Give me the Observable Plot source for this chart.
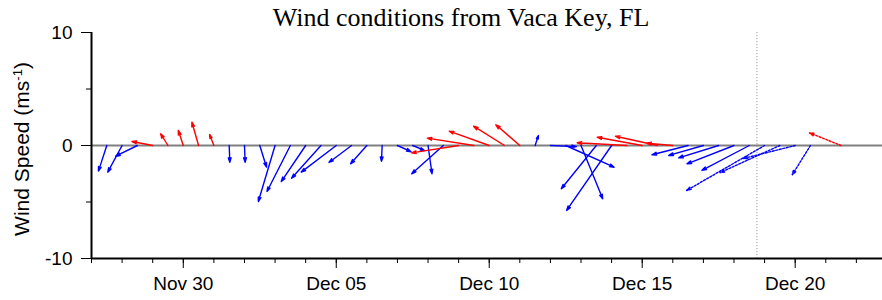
<!DOCTYPE html>
<html><head><meta charset="utf-8">
<script src="https://cdn.jsdelivr.net/npm/d3@7"></script>
<script src="https://cdn.jsdelivr.net/npm/@observablehq/plot@0.6"></script>
<style>
body{margin:0;background:#fff;}
#wrap{position:relative;width:882px;height:300px;}
#title{position:absolute;left:0;top:4px;width:922px;text-align:center;font-family:"Liberation Serif","Times New Roman",serif;font-size:26px;line-height:28px;color:#000;}
</style></head><body>
<div id="wrap"><div id="title">Wind conditions from Vaca Key, FL</div></div>
<script>
// observation / forecast times (UTC), 12-hourly
const times = [
"2023-11-27T12:00Z","2023-11-28T00:00Z","2023-11-28T12:00Z","2023-11-29T00:00Z","2023-11-29T12:00Z",
"2023-11-30T00:00Z","2023-11-30T12:00Z","2023-12-01T00:00Z","2023-12-01T12:00Z","2023-12-02T00:00Z",
"2023-12-02T12:00Z","2023-12-03T00:00Z","2023-12-03T12:00Z","2023-12-04T00:00Z","2023-12-04T12:00Z",
"2023-12-05T00:00Z","2023-12-05T12:00Z","2023-12-06T00:00Z","2023-12-06T12:00Z","2023-12-07T00:00Z",
"2023-12-07T12:00Z","2023-12-08T00:00Z","2023-12-08T12:00Z","2023-12-09T00:00Z","2023-12-09T12:00Z",
"2023-12-10T00:00Z","2023-12-10T12:00Z","2023-12-11T00:00Z","2023-12-11T12:00Z","2023-12-12T00:00Z",
"2023-12-12T12:00Z","2023-12-13T00:00Z","2023-12-13T12:00Z","2023-12-14T00:00Z","2023-12-14T12:00Z",
"2023-12-15T00:00Z","2023-12-15T12:00Z","2023-12-16T00:00Z","2023-12-16T12:00Z","2023-12-17T00:00Z",
"2023-12-17T12:00Z","2023-12-18T00:00Z","2023-12-18T12:00Z","2023-12-19T00:00Z","2023-12-19T12:00Z",
"2023-12-20T00:00Z","2023-12-20T12:00Z","2023-12-21T12:00Z"];
// east-west wind component (m/s)
const uWind = [
-0.74,-1.27,-1.92,-1.83,-0.65,-0.44,-0.59,-0.38,0.06,0.06,
0.60,-1.48,-2.07,-2.16,-2.60,-3.10,-2.00,-1.44,-0.06,1.20,
1.03,0.35,-2.80,-4.16,-4.13,-3.54,-2.74,-2.12,0.29,2.30,
4.28,1.92,-3.10,-3.98,-4.40,-3.98,-3.72,-2.30,-3.19,-3.06,
-3.54,-4.16,-4.19,-6.90,-5.30,-4.60,-1.62,-2.80];
// north-south wind component (m/s)
const vWind = [
-2.27,-2.36,-0.95,0.35,1.04,1.33,2.06,0.97,-1.48,-1.48,
-1.92,-4.96,-4.07,-3.19,-2.90,-2.36,-1.50,-1.62,-1.40,-0.55,
-0.44,-2.50,-2.50,-0.65,0.65,1.27,1.71,1.83,0.88,-0.10,
-1.92,-4.72,-3.83,-5.75,0.24,0.73,0.82,0.20,-0.82,-0.88,
-1.09,-1.62,-2.20,-3.98,-2.40,-1.15,-2.60,1.12];
// vector class
const group = [
"b","b","b","a","a","a","a","a","b","b",
"b","b","b","b","b","b","b","b","b","b",
"b","b","b","a","a","a","a","a","b","b",
"b","b","b","b","a","a","a","a","b","b",
"b","b","b","b","b","b","b","a"];
// observed vs forecast
const kind = [
"obs","obs","obs","obs","obs","obs","obs","obs","obs","obs",
"obs","obs","obs","obs","obs","obs","obs","obs","obs","obs",
"obs","obs","obs","obs","obs","obs","obs","obs","obs","obs",
"obs","obs","obs","obs","obs","obs","obs","obs","obs","obs",
"obs","obs","obs","fc","fc","fc","fc","fc"];
const nowTime = "2023-12-18T18:00Z";
const xTickDates = ["2023-11-30","2023-12-05","2023-12-10","2023-12-15","2023-12-20"];
const yTicks = [-10, 0, 10];
const yMinorTicks = [-5, 5];

const W = 882, H = 300, mL = 91, mR = 0, mT = 32, mB = 42;
const xStart = new Date("2023-11-27T00:00Z"), xEnd = new Date("2023-12-22T20:30Z");
const yDomain = [-10, 10];
const pxPerUnit = (H - mT - mB) / (yDomain[1] - yDomain[0]);
const msPerPx = (xEnd - xStart) / (W - mL - mR);

const data = times.map((t, i) => {
  const d = new Date(t);
  return {t: d, t2: new Date(+d + uWind[i] * pxPerUnit * msPerPx), v: vWind[i], g: group[i], k: kind[i]};
});

const fmt = d3.utcFormat("%b %d");
const chart = Plot.plot({
  width: W, height: H, marginLeft: mL, marginRight: mR, marginTop: mT, marginBottom: mB,
  style: {fontFamily: "'Liberation Sans', Arial, sans-serif", fontSize: "19px", color: "#000", background: "#fff", overflow: "visible"},
  x: {type: "utc", domain: [xStart, xEnd]},
  y: {domain: yDomain},
  color: {domain: ["a", "b"], range: ["#ff0000", "#0000ff"]},
  marks: [
    Plot.ruleY([0], {stroke: "#808080", strokeWidth: 2}),
    Plot.ruleX([new Date(nowTime)], {stroke: "#9a9a9a", strokeWidth: 1, strokeDasharray: "1.2,1.8"}),
    Plot.arrow(data.filter(d => d.k === "obs"), {x1: "t", y1: 0, x2: "t2", y2: "v", stroke: "g", strokeWidth: 1.4, headLength: 5, headAngle: 34}),
    Plot.arrow(data.filter(d => d.k === "fc"), {x1: "t", y1: 0, x2: "t2", y2: "v", stroke: "g", strokeWidth: 1.4, headLength: 5, headAngle: 34, strokeDasharray: "2,1.6"}),
    Plot.axisX({ticks: "day", tickSize: 5, tickFormat: () => "", label: null}),
    Plot.axisX({ticks: xTickDates.map(d => new Date(d + "T00:00Z")), tickSize: 10, tickPadding: 8, tickFormat: fmt, label: null}),
    Plot.axisY({ticks: yMinorTicks, tickSize: 5, tickFormat: () => "", label: null}),
    Plot.axisY({ticks: yTicks, tickSize: 10, tickPadding: 9, tickFormat: d => String(d), label: null}),
    Plot.ruleY([yDomain[0]], {stroke: "#000", strokeWidth: 2}),
    Plot.ruleX([xStart], {stroke: "#000", strokeWidth: 2})
  ]
});
document.getElementById("wrap").appendChild(chart);
chart.style.position = "absolute"; chart.style.left = "0"; chart.style.top = "0";
const lab = d3.select(chart).append("text")
  .attr("transform", `translate(29,${mT + (H - mT - mB) / 2 + 4}) rotate(-90)`)
  .attr("text-anchor", "middle")
  .attr("font-size", 21)
  .attr("fill", "#000");
lab.append("tspan").text("Wind Speed (ms");
lab.append("tspan").attr("baseline-shift", "super").attr("font-size", 13).text("-1");
lab.append("tspan").text(")");
document.getElementById("title").style.zIndex = 2;
</script>
</body></html>
